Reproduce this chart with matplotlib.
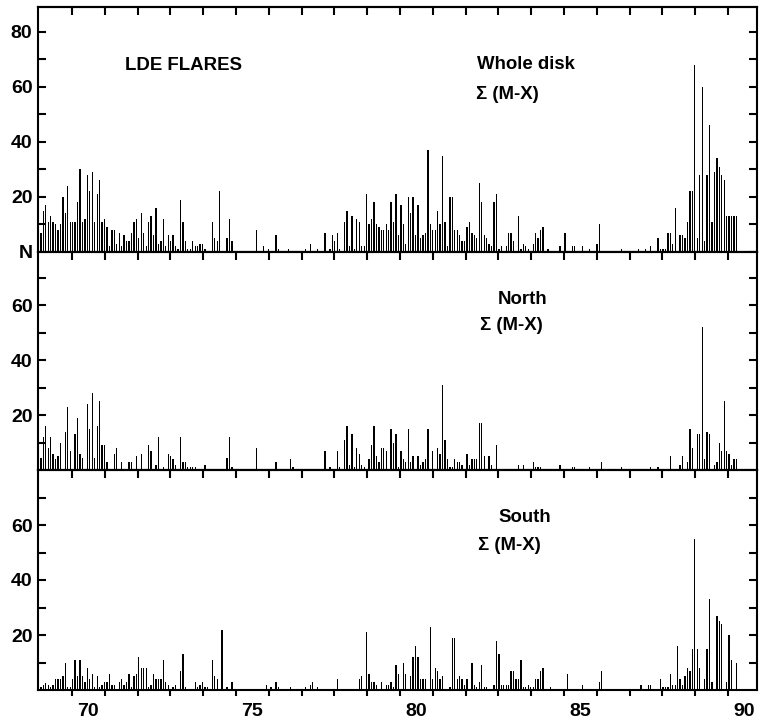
import matplotlib.pyplot as plt
import numpy as np
from matplotlib.ticker import NullFormatter

plt.rcParams.update({
    'font.family': ['Liberation Sans', 'DejaVu Sans'],
    'font.weight': 'bold',
    'font.size': 14,
    'axes.linewidth': 1.5,
})

# one bar per solar (Bartels) rotation, starting early 1969
start_year = 69.05
rotation = 27.2753 / 365.25

whole = [
    7, 15, 17, 11, 13, 11, 10, 8, 10, 20, 14, 24, 11, 11, 11, 18, 30, 11, 12, 28,
    22, 29, 11, 21, 26, 11, 12, 9, 2, 8, 8, 3, 7, 2, 6, 4, 4, 7, 11, 12,
    5, 14, 7, 2, 11, 13, 6, 16, 3, 4, 12, 2, 6, 4, 6, 2, 1, 19, 11, 4,
    1, 1, 4, 2, 2, 3, 3, 1, 0, 0, 11, 5, 4, 22, 0, 0, 5, 12, 4, 0,
    0, 0, 0, 0, 0, 0, 0, 0, 8, 0, 0, 2, 0, 1, 0, 0, 6, 1, 0, 0,
    0, 1, 0, 0, 0, 0, 0, 0, 1, 0, 3, 0, 0, 1, 0, 0, 7, 0, 1, 6,
    4, 7, 1, 0, 11, 15, 2, 13, 1, 12, 11, 2, 2, 21, 10, 12, 18, 10, 9, 8,
    8, 10, 8, 18, 11, 21, 6, 17, 10, 3, 20, 14, 20, 6, 17, 5, 6, 7, 37, 10,
    8, 8, 15, 10, 35, 11, 2, 20, 20, 8, 8, 6, 4, 4, 9, 11, 7, 6, 5, 25,
    18, 6, 5, 3, 2, 18, 21, 1, 2, 0, 2, 7, 7, 4, 0, 13, 1, 3, 2, 1,
    0, 3, 7, 5, 8, 9, 0, 1, 0, 0, 0, 0, 2, 0, 7, 0, 0, 2, 2, 0,
    0, 2, 0, 0, 1, 0, 0, 3, 10, 0, 0, 0, 0, 0, 0, 0, 0, 1, 0, 0,
    0, 0, 0, 0, 1, 0, 0, 1, 0, 2, 0, 0, 5, 1, 1, 1, 7, 7, 3, 16,
    0, 6, 6, 5, 11, 22, 22, 68, 5, 28, 60, 4, 28, 46, 11, 29, 34, 31, 28, 26,
    13, 13, 13, 13, 13, 0,
]

north = [
    4.5, 12, 16, 8, 12, 6, 4, 5, 10, 0, 14, 23, 7, 0, 13, 19, 6, 4.5, 0, 24,
    15, 28, 4.5, 16, 25, 9, 9, 3, 0, 0, 6, 8, 0, 3, 0, 0, 3, 3, 0, 5,
    0, 6, 0, 0, 9, 7, 0, 2, 12, 0, 1, 0, 6, 5, 4, 2, 0, 12, 3, 3,
    1, 1, 1, 1, 0, 0, 0, 2, 0, 0, 0, 0, 0, 0, 0, 0, 4.5, 12, 1, 0,
    0, 0, 0, 0, 0, 0, 0, 0, 8, 0, 0, 0, 0, 0, 0, 0, 3, 0, 0, 0,
    0, 0, 4, 1, 0, 0, 0, 0, 0, 0, 0, 0, 0, 0, 0, 0, 7, 0, 1, 0,
    0, 7, 1, 0, 11, 16, 2, 13, 1, 8, 6, 2, 1, 0, 4, 9, 16, 5, 3, 8,
    8, 7, 0, 15, 10, 13, 1, 7, 4, 3, 15, 3, 5, 0, 5, 2, 3, 4, 15, 0,
    7, 0, 8, 6, 31, 11, 4, 1, 1, 4, 3, 3, 2, 0, 6, 2, 4, 4, 4, 17,
    17, 5, 0, 5, 2, 0, 9, 0, 0, 0, 0, 0, 0, 0, 0, 2, 0, 2, 0, 0,
    0, 3, 1, 1, 1, 0, 0, 0, 0, 0, 0, 0, 2, 0, 0, 0, 0, 1, 1, 0,
    0, 0, 0, 0, 1, 0, 0, 0, 0, 3, 0, 0, 0, 0, 0, 0, 0, 1, 0, 0,
    0, 0, 0, 0, 0, 0, 0, 0, 0, 1, 0, 0, 1, 0, 0, 0, 0, 5, 0, 0,
    0, 2, 5, 0, 3, 15, 8, 0, 13, 13, 52, 4, 14, 13, 0, 2, 3, 10, 7, 25,
    7, 6, 2, 4, 4, 0,
]

south = [
    1, 2, 2.5, 2, 1, 2, 4, 4, 4, 5, 10, 1, 1, 4, 11, 5, 11, 5, 3, 8,
    4, 6, 1, 5, 1, 2, 3, 3, 6, 2, 2, 0, 3, 4, 2, 3, 6, 1, 5, 6,
    12, 8, 8, 8, 1, 2, 6, 4, 4, 4, 11, 3, 2, 0, 1, 2, 0, 7, 13, 1,
    0, 0, 0, 3, 1, 2, 3, 1, 1, 0, 11, 5, 4, 0, 22, 0, 1, 0, 3, 0,
    0, 0, 0, 0, 0, 0, 0, 0, 0, 0, 0, 0, 2, 0, 1, 0, 3, 1, 0, 0,
    0, 0, 1, 0, 0, 0, 0, 0, 1, 0, 2, 3, 0, 1, 0, 0, 0, 0, 0, 0,
    0, 4, 0, 0, 0, 0, 0, 0, 0, 0, 4, 5, 0, 21, 6, 3, 3, 2, 0, 3,
    0, 2, 2, 3, 1, 9, 6, 0, 10, 6, 0, 5, 12, 16, 12, 4, 4, 4, 0, 23,
    4, 8, 7, 4, 5, 0, 0, 1, 19, 19, 4, 5, 4, 2, 4, 0, 10, 2, 1, 3,
    9, 1, 1, 0, 0, 2, 18, 13, 2, 2, 2, 2, 7, 7, 4, 4, 11, 1, 1, 2,
    1, 1, 4, 4, 7, 8, 0, 0, 1, 0, 0, 0, 0, 0, 0, 6, 0, 0, 0, 0,
    0, 2, 0, 0, 0, 0, 0, 0, 3, 7, 0, 0, 0, 0, 0, 0, 0, 0, 0, 0,
    0, 0, 0, 0, 0, 2, 0, 0, 2, 2, 0, 0, 0, 4, 1, 1, 1, 6, 2, 2,
    16, 4, 2, 5, 8, 7, 15, 55, 15, 8, 0, 4, 15, 33, 3, 0, 27, 25, 24, 0,
    3, 20, 11, 0, 10, 0,
]

years = start_year + rotation * np.arange(len(whole))

year_ticks = list(range(70, 91))
year_labels = ['70', '75', '80', '85', '90']
year_label_pos = [70.5, 75.5, 80.5, 85.5, 90.5]

fig = plt.figure(figsize=(7.61, 7.23), dpi=100)

# [left, bottom, width, height] in figure fraction
left, width = 38 / 761, 719 / 761
panels = [
    (whole, (1 - 252 / 723, 245 / 723), 89.0, ['N', '20', '40', '60', '80'], [0, 20, 40, 60, 80],
     [('LDE FLARES', 0.121, 0.763), ('Whole disk', 0.611, 0.767), ('Σ (M-X)', 0.609, 0.641)]),
    (north, (1 - 470 / 723, 218 / 723), 79.3, ['20', '40', '60'], [20, 40, 60],
     [('North', 0.640, 0.784), ('Σ (M-X)', 0.615, 0.661)]),
    (south, (1 - 690 / 723, 220 / 723), 80.0, ['20', '40', '60'], [20, 40, 60],
     [('South', 0.640, 0.786), ('Σ (M-X)', 0.612, 0.659)]),
]

for k, (vals, (bot, h), ytop, ylabs, yt, texts) in enumerate(panels):
    ax = fig.add_axes([left, bot, width, h])
    ax.bar(years, vals, width=0.04, color='black', linewidth=0)
    ax.set_xlim(68.963, 90.884)
    ax.set_ylim(0, ytop)

    ax.set_yticks(yt, labels=ylabs)
    ax.set_yticks([v for v in range(10, int(ytop), 10) if v not in yt], minor=True)
    ax.tick_params(axis='y', which='both', direction='in', left=True, right=True,
                   length=6, width=1.5, pad=4, labelsize=14)

    top = ax.secondary_xaxis('top')
    top.set_xticks(year_ticks)
    top.xaxis.set_major_formatter(NullFormatter())
    top.tick_params(direction='in', length=5.5, width=1.5)
    top.spines['top'].set_linewidth(1.5)

    if k == 2:
        ax.set_xticks(year_ticks)
        ax.xaxis.set_major_formatter(NullFormatter())
        ax.set_xticks(year_label_pos, labels=year_labels, minor=True)
        ax.tick_params(axis='x', which='major', direction='out', length=4.5, width=1.5)
        ax.tick_params(axis='x', which='minor', length=0, pad=9, labelsize=14)
    else:
        ax.set_xticks([])

    for s, tx, ty in texts:
        ax.text(tx, ty, s, transform=ax.transAxes, ha='left', va='center',
                fontsize=13.4, fontweight='bold')

fig.savefig('out.png', dpi=100)
